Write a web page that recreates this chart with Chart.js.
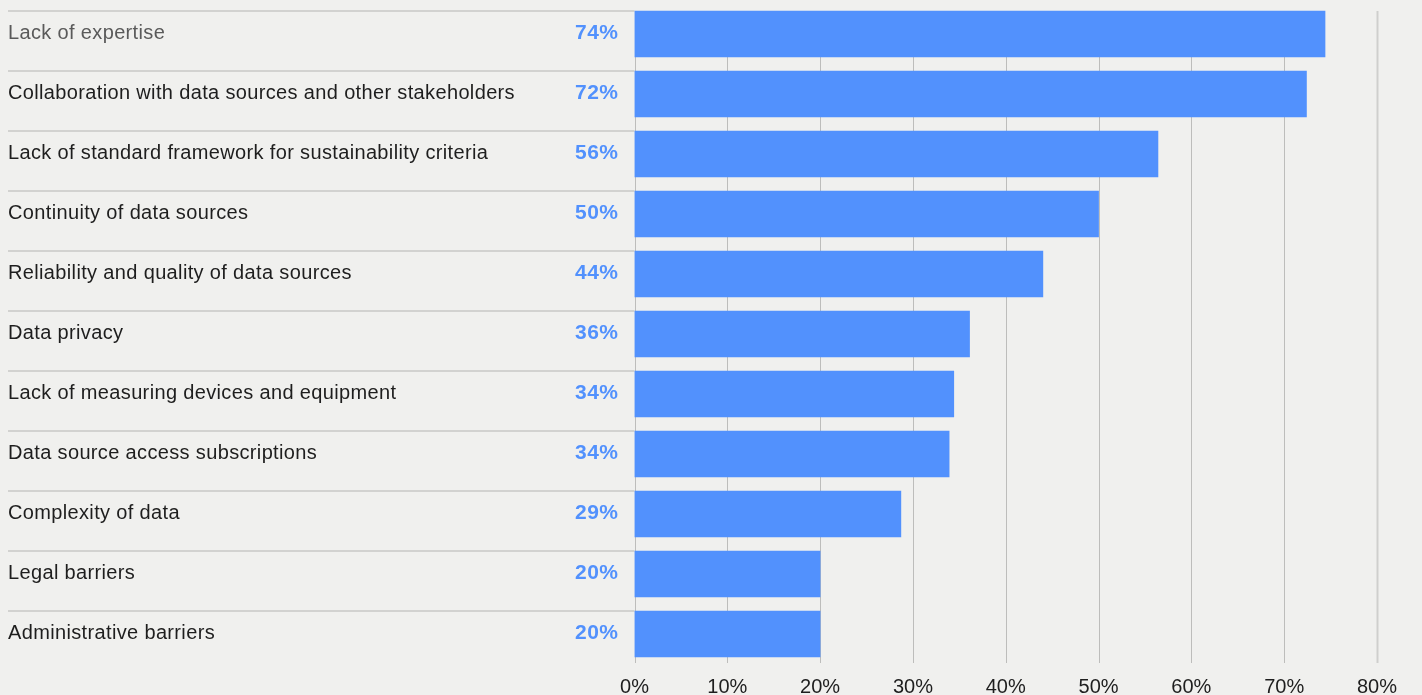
<!DOCTYPE html>
<html>
<head>
<meta charset="utf-8">
<title>Barriers</title>
<script src="https://cdn.jsdelivr.net/npm/chart.js@4"></script>
<style>
  html, body { margin: 0; padding: 0; background: #f0f0ee; }
  #wrap { width: 1422px; height: 695px; position: relative; }
</style>
</head>
<body>
<div id="wrap"><canvas id="barChart"></canvas></div>
<script>
// Data
const categories = [
    "Lack of expertise",
    "Collaboration with data sources and other stakeholders",
    "Lack of standard framework for sustainability criteria",
    "Continuity of data sources",
    "Reliability and quality of data sources",
    "Data privacy",
    "Lack of measuring devices and equipment",
    "Data source access subscriptions",
    "Complexity of data",
    "Legal barriers",
    "Administrative barriers"
];
const shares = [74.4, 72.4, 56.4, 50, 44, 36.1, 34.4, 33.9, 28.7, 20, 20];
const xTicks = [0, 10, 20, 30, 40, 50, 60, 70, 80];

const BLUE = "#5291fd";
const FONT = '"Liberation Sans", Arial, sans-serif';
const BAR_H = 46;

// Row separators, vertical grid lines, category and value labels
const decorations = {
    id: "decorations",
    beforeDatasetsDraw(chart) {
        let ctx = chart.ctx;
        let area = chart.chartArea;
        let x = chart.scales.x;
        let y = chart.scales.y;
        let top = y.getPixelForValue(0) - BAR_H / 2;

        ctx.save();
        xTicks.forEach((t, i) => {
            let px = Math.round(x.getPixelForValue(t)) + 0.5;
            let last = i === xTicks.length - 1;
            ctx.strokeStyle = last ? "#cfcfcd" : "#bdbdbb";
            ctx.lineWidth = last ? 2 : 1;
            ctx.beginPath();
            ctx.moveTo(px, top);
            ctx.lineTo(px, area.bottom - 1);
            ctx.stroke();
        });

        ctx.strokeStyle = "#c8c8c6";
        ctx.lineWidth = 1.5;
        categories.forEach((c, i) => {
            let py = y.getPixelForValue(i) - BAR_H / 2;
            ctx.beginPath();
            ctx.moveTo(8, py);
            ctx.lineTo(area.left, py);
            ctx.stroke();
        });
        ctx.restore();
    },
    afterDatasetsDraw(chart) {
        let ctx = chart.ctx;
        let y = chart.scales.y;
        ctx.save();
        ctx.textBaseline = "alphabetic";
        categories.forEach((c, i) => {
            let py = y.getPixelForValue(i) + 5;
            ctx.font = "20px " + FONT;
            ctx.letterSpacing = "0.35px";
            ctx.fillStyle = i === 0 ? "#5a5a5a" : "#1e1e1e";
            ctx.textAlign = "left";
            ctx.fillText(c, 8, py);

            ctx.font = "bold 21px " + FONT;
            ctx.letterSpacing = "0.5px";
            ctx.fillStyle = BLUE;
            ctx.textAlign = "right";
            ctx.fillText(Math.round(shares[i]) + "%", 618.5, py);
        });
        ctx.restore();
    }
};

let ctx = document.getElementById("barChart").getContext("2d");
new Chart(ctx, {
    type: "bar",
    data: {
        labels: categories,
        datasets: [{
            data: shares,
            backgroundColor: BLUE,
            borderWidth: 0,
            barThickness: BAR_H
        }]
    },
    options: {
        indexAxis: "y",
        responsive: true,
        maintainAspectRatio: false,
        animation: false,
        layout: { padding: { left: 0, right: 45, top: 4, bottom: 0 } },
        plugins: {
            legend: { display: false },
            tooltip: { enabled: false }
        },
        scales: {
            x: {
                min: 0,
                max: 80,
                afterBuildTicks: (s) => { s.ticks = xTicks.map(v => ({ value: v })); },
                afterFit: (s) => { s.height = 31; },
                grid: { display: false },
                border: { display: false },
                ticks: {
                    padding: 3,
                    color: "#1e1e1e",
                    font: { family: FONT, size: 20 },
                    callback: (v) => v + "%"
                }
            },
            y: {
                offset: true,
                afterFit: (s) => { s.width = 634.5; },
                grid: { display: false },
                border: { display: false },
                ticks: { display: false }
            }
        }
    },
    plugins: [decorations]
});
</script>
</body>
</html>
